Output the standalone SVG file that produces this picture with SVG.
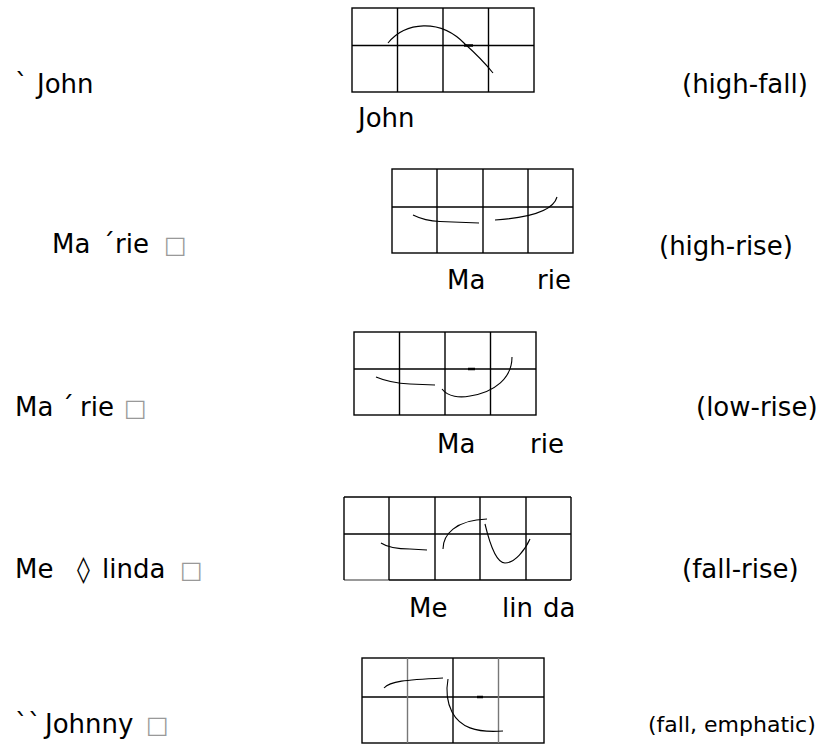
<svg xmlns="http://www.w3.org/2000/svg" width="826" height="748" viewBox="0 0 826 748">
<style>
text{font-family:"DejaVu Sans","Liberation Sans",sans-serif;font-size:26px;fill:#000}
.box{fill:#999;font-size:24px}
.small{font-size:22px}
.grid{fill:none;stroke:#000;stroke-width:1.4}
.gl{stroke:#000;stroke-width:1.4}
.gg{stroke:#777;stroke-width:1.4}
.c{fill:none;stroke:#000;stroke-width:1.1}
.m{stroke:#000;stroke-width:2.5}
</style>
<rect width="826" height="748" fill="#fff"/>
<g id="row1">
<text x="15" y="93">`</text><text x="37" y="93">John</text>
<g id="grid1">
<rect class="grid" x="352" y="8" width="182" height="84"/>
<line class="gl" x1="352" y1="45.5" x2="534" y2="45.5"/>
<line class="gl" x1="397.5" y1="8" x2="397.5" y2="92"/>
<line class="gl" x1="443" y1="8" x2="443" y2="92"/>
<line class="gl" x1="488.5" y1="8" x2="488.5" y2="92"/>
<line class="m" x1="464" y1="45.5" x2="473" y2="45.5"/>
<path class="c" d="M388,43 C405,22 440,18 465,44 C475,53 485,63 493,73"/>
</g>
<text x="358" y="127">John</text>
<text x="682" y="93">(high-fall)</text>
</g>
<g id="row2">
<text x="52" y="253">Ma</text><text x="102" y="253">´</text><text x="115" y="253">rie</text><text class="box" x="164" y="253">□</text>
<g id="grid2">
<rect class="grid" x="392" y="169" width="181" height="84"/>
<line class="gl" x1="392" y1="207" x2="573" y2="207"/>
<line class="gl" x1="437" y1="169" x2="437" y2="253"/>
<line class="gl" x1="483" y1="169" x2="483" y2="253"/>
<line class="gl" x1="528" y1="169" x2="528" y2="253"/>
<path class="c" d="M413,215 Q425,221 440,221.5 L479,223"/>
<path class="c" d="M495,220 C525,218 553,212 557,197"/>
</g>
<text x="447" y="289">Ma</text><text x="537" y="289">rie</text>
<text x="659" y="255">(high-rise)</text>
</g>
<g id="row3">
<text x="15" y="416">Ma</text><text x="61" y="416">ˊ</text><text x="80" y="416">rie</text><text class="box" x="124" y="416">□</text>
<g id="grid3">
<rect class="grid" x="354" y="332" width="182" height="83"/>
<line class="gl" x1="354" y1="369" x2="536" y2="369"/>
<line class="gl" x1="399.5" y1="332" x2="399.5" y2="415"/>
<line class="gl" x1="445" y1="332" x2="445" y2="415"/>
<line class="gl" x1="490.5" y1="332" x2="490.5" y2="415"/>
<line class="m" x1="468" y1="369" x2="475" y2="369"/>
<path class="c" d="M376,377 Q390,383 410,384 L435,385"/>
<path class="c" d="M442,389 C448,397 460,398 470,396 C495,392 512,378 512,357"/>
</g>
<text x="437" y="453">Ma</text><text x="530" y="453">rie</text>
<text x="696" y="416">(low-rise)</text>
</g>
<g id="row4">
<text x="15" y="578">Me</text><text x="77" y="578">◊</text><text x="102" y="578">linda</text><text class="box" x="180" y="578">□</text>
<g id="grid4">
<line class="gl" x1="344" y1="497" x2="571" y2="497"/>
<line class="gl" x1="344" y1="534" x2="571" y2="534"/>
<line class="gg" x1="344" y1="580" x2="389" y2="580"/>
<line class="gl" x1="389" y1="580" x2="571" y2="580"/>
<line class="gl" x1="344" y1="497" x2="344" y2="580"/>
<line class="gl" x1="389" y1="497" x2="389" y2="580"/>
<line class="gl" x1="435" y1="497" x2="435" y2="580"/>
<line class="gl" x1="480" y1="497" x2="480" y2="580"/>
<line class="gl" x1="526" y1="497" x2="526" y2="580"/>
<line class="gl" x1="571" y1="497" x2="571" y2="580"/>
<path class="c" d="M381,543 Q390,549 410,549 L427,550"/>
<path class="c" d="M443,549 C443,535 455,520 487,519"/>
<path class="c" d="M485,524 C490,545 497,563 505,563 C515,563 525,550 530,539"/>
</g>
<text x="409" y="617">Me</text><text x="502" y="617">lin</text><text x="543" y="617">da</text>
<text x="682" y="578">(fall-rise)</text>
</g>
<g id="row5">
<text x="15" y="733">``</text><text x="45" y="733">Johnny</text><text class="box" x="146" y="733">□</text>
<g id="grid5">
<rect class="grid" x="362" y="658" width="182" height="85"/>
<line class="gl" x1="362" y1="697" x2="544" y2="697"/>
<line class="gg" x1="407.5" y1="658" x2="407.5" y2="743"/>
<line class="gl" x1="453" y1="658" x2="453" y2="743"/>
<line class="gg" x1="498.5" y1="658" x2="498.5" y2="743"/>
<line class="m" x1="477" y1="697" x2="483" y2="697"/>
<path class="c" d="M384,688 C390,681 405,680 443,678"/>
<path class="c" d="M448,679 C446,690 446,700 452,712 C460,727 475,733 503,731"/>
</g>
<text class="small" x="648" y="732">(fall, emphatic)</text>
</g>
</svg>
